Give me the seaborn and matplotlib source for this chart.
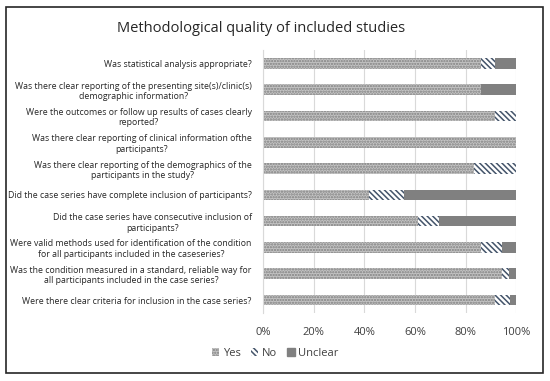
import numpy as np
import pandas as pd
import seaborn as sns
import matplotlib.pyplot as plt
from matplotlib.patches import Patch, Rectangle


# questions, top to bottom
questions = [
    "Was statistical analysis appropriate?",
    "Was there clear reporting of the presenting site(s)/clinic(s)\ndemographic information?",
    "Were the outcomes or follow up results of cases clearly\nreported?",
    "Was there clear reporting of clinical information ofthe\nparticipants?",
    "Was there clear reporting of the demographics of the\nparticipants in the study?",
    "Did the case series have complete inclusion of participants?",
    "Did the case series have consecutive inclusion of\nparticipants?",
    "Were valid methods used for identification of the condition\nfor all participants included in the caseseries?",
    "Was the condition measured in a standard, reliable way for\nall participants included in the case series?",
    "Were there clear criteria for inclusion in the case series?",
]

# percentages
yes = [86.1, 86.1, 91.7, 100.0, 83.3, 41.7, 61.1, 86.1, 94.4, 91.7]
no = [5.6, 0.0, 8.3, 0.0, 16.7, 13.9, 8.3, 8.3, 2.8, 5.6]
unclear = [8.3, 13.9, 0.0, 0.0, 0.0, 44.4, 30.6, 5.6, 2.8, 2.7]

xticks = [0, 20, 40, 60, 80, 100]

df = pd.DataFrame({"Question": questions, "Yes": yes, "No": no, "Unclear": unclear})
df["YesNo"] = df["Yes"] + df["No"]
df["Total"] = df["YesNo"] + df["Unclear"]

plt.rcParams["font.family"] = ["Open Sans", "DejaVu Sans"]
plt.rcParams["hatch.linewidth"] = 1.1

fig = plt.figure(figsize=(5.5, 3.81), dpi=100)
ax = fig.add_axes([0.478, 0.178, 0.461, 0.690])

# stacked bars drawn back to front
sns.barplot(data=df, x="Total", y="Question", orient="h", color="#808080",
            width=0.4, ax=ax, linewidth=0)
n = len(ax.patches)
sns.barplot(data=df, x="YesNo", y="Question", orient="h", color="white",
            width=0.4, ax=ax, linewidth=0)
for p in ax.patches[n:]:
    p.set_hatch("\\\\\\\\\\\\")
    p.set_edgecolor("#44546a")
    p.set_linewidth(0)
m = len(ax.patches)
sns.barplot(data=df, x="Yes", y="Question", orient="h", color="#c4c4c4",
            width=0.4, ax=ax, linewidth=0)
for p in ax.patches[m:]:
    p.set_hatch("......")
    p.set_edgecolor("#808080")
    p.set_linewidth(0)

ax.set_xlim(0, 100)
ax.set_ylim(len(questions) - 0.5, -0.5)
ax.set_xticks(xticks)
ax.set_xticklabels([f"{t}%" for t in xticks], fontsize=8, color="#404040")
ax.set_yticks(range(len(questions)))
ax.set_yticklabels(questions, fontsize=6.3, color="#262626", multialignment="center")
ax.tick_params(length=0, pad=8)
ax.tick_params(axis="x", pad=10)
ax.set_xlabel("")
ax.set_ylabel("")
ax.grid(axis="x", color="#d9d9d9", linewidth=0.8)
ax.set_axisbelow(True)
for side in ["top", "right", "bottom"]:
    ax.spines[side].set_visible(False)
ax.spines["left"].set_color("#d9d9d9")

fig.text(0.475, 0.925, "Methodological quality of included studies",
         ha="center", va="center", fontsize=10.5, color="#262626")

handles = [
    Patch(facecolor="#c4c4c4", hatch="......", edgecolor="#808080", linewidth=0, label="Yes"),
    Patch(facecolor="white", hatch="\\\\\\\\\\\\", edgecolor="#44546a", linewidth=0, label="No"),
    Patch(facecolor="#808080", edgecolor="#808080", label="Unclear"),
]
fig.legend(handles=handles, loc="center", bbox_to_anchor=(0.5, 0.072), ncol=3,
           frameon=False, fontsize=8, handlelength=0.7, handleheight=0.7,
           handletextpad=0.3, columnspacing=0.9, labelcolor="#404040")

fig.patches.append(Rectangle((0.011, 0.021), 0.977, 0.96, transform=fig.transFigure,
                             fill=False, edgecolor="#262626", linewidth=1.2))

fig.savefig("out.png", dpi=100)
